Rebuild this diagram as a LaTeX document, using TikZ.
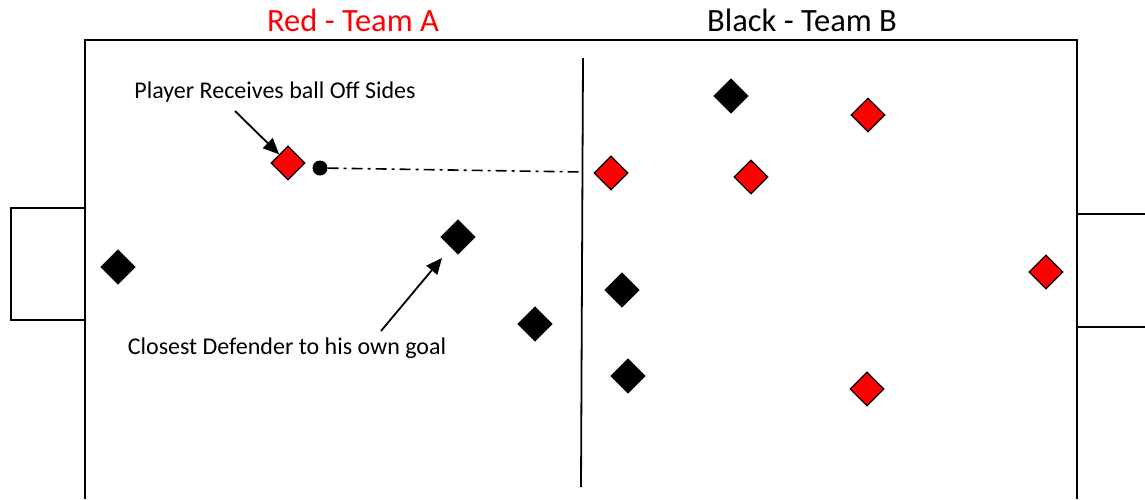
\documentclass[tikz,border=0pt]{standalone}
\usepackage{fontspec}
\setmainfont{Carlito}
\usetikzlibrary{shapes.geometric,arrows.meta}
\tikzset{
  player/.style={diamond, draw=black, line width=1.2pt, minimum size=34pt, inner sep=0pt},
  redplayer/.style={player, fill=red},
  blackplayer/.style={player, fill=black},
  label/.style={font=\fontsize{24}{28}\selectfont},
  pointer/.style={line width=1.8pt, -{Triangle[length=16pt,width=14pt]}},
}
\begin{document}
\begin{tikzpicture}[x=1pt,y=-1pt]
    \useasboundingbox (0,0) rectangle (1145,499);
    % field and goals
    \draw[line width=1.8pt] (85,499) -- (85,40) -- (1077,40) -- (1077,499);
    \draw[line width=1.8pt] (85,208) -- (11,208) -- (11,320) -- (85,320);
    \draw[line width=1.8pt] (1145,214) -- (1077,214);
    \draw[line width=1.8pt] (1145,327) -- (1077,327);
    \draw[line width=1.8pt] (583,58) -- (581,487);
    \coordinate (half) at (583,172);
    % teams
    \node[text=red, font=\fontsize{32.5}{36}\selectfont] (teamA) at (353,20) {Red - Team A};
    \node[font=\fontsize{32.5}{36}\selectfont] (teamB) at (802,20) {Black - Team B};
    % red players
    \node[redplayer] (r1) at (288,163) {};
    \node[redplayer] (r2) at (611,173) {};
    \node[redplayer] (r3) at (751,177) {};
    \node[redplayer] (r4) at (868,115) {};
    \node[redplayer] (r5) at (1046,272) {};
    \node[redplayer] (r6) at (867,389) {};
    % black players
    \node[blackplayer] (b1) at (731,96) {};
    \node[blackplayer] (b2) at (458,237) {};
    \node[blackplayer] (b3) at (118,267) {};
    \node[blackplayer] (b4) at (622,290) {};
    \node[blackplayer] (b5) at (535,324) {};
    \node[blackplayer] (b6) at (628,376) {};
    % ball and pass
    \node[circle, fill=black, minimum size=15pt, inner sep=0pt] (ball) at (320,168) {};
    \draw[line width=1.6pt, dash pattern=on 11pt off 5pt on 3pt off 5pt] (ball) -- (half);
    % labels
    \node[label] (offside) at (275,92) {Player Receives ball Off Sides};
    \node[label] (defender) at (287,348) {Closest Defender to his own goal};
    \coordinate (p1) at (235,111);
    \coordinate (p2) at (381,331);
    \draw[pointer] (p1) -- (r1);
    \draw[pointer] (p2) -- (442,258);
\end{tikzpicture}
\end{document}
